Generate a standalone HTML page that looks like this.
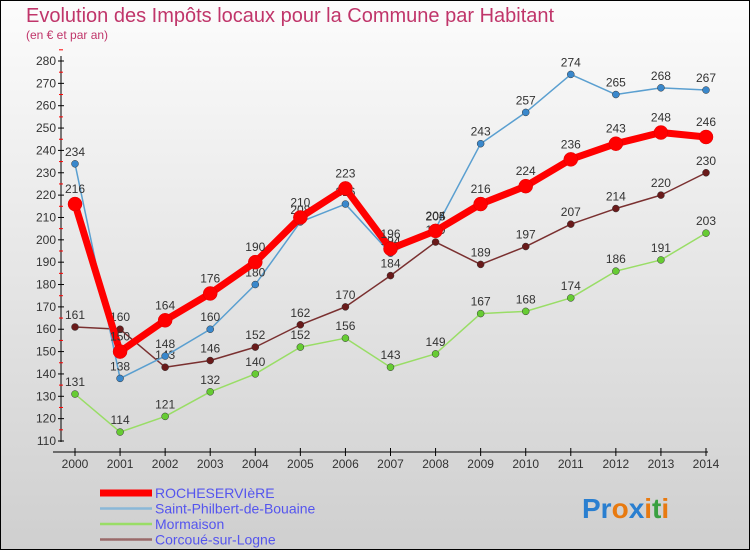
<!DOCTYPE html>
<html><head><meta charset="utf-8"><style>
body{margin:0}
#c{width:750px;height:550px;position:relative;box-sizing:border-box;border:1px solid #000;background:linear-gradient(#fcfcfc,#cfcfcf);font-family:"Liberation Sans",sans-serif;overflow:hidden}
</style></head><body>
<div id="c">
<svg id="s" width="750" height="550" style="position:absolute;left:-1px;top:-1px">
<text x="26" y="22" font-size="20" fill="#c0356a">Evolution des Impôts locaux pour la Commune par Habitant</text>
<text x="26" y="39" font-size="12" fill="#c0356a">(en € et par an)</text>
<g id="ax"></g><g id="ser"></g><g id="leg"></g>
<text x="582" y="518" font-size="28" font-weight="bold"><tspan fill="#2a7fd0">Pr</tspan><tspan fill="#e87a10">o</tspan><tspan fill="#2a7fd0">x</tspan><tspan fill="#e87a10">i</tspan><tspan fill="#3aa040">t</tspan><tspan fill="#e87a10">i</tspan></text>
</svg></div>
<script>
const years=[2000,2001,2002,2003,2004,2005,2006,2007,2008,2009,2010,2011,2012,2013,2014];
const yTicks=[110,120,130,140,150,160,170,180,190,200,210,220,230,240,250,260,270,280];
const rocheserviere=[216,150,164,176,190,210,223,196,204,216,224,236,243,248,246];
const saintPhilbert=[234,138,148,160,180,208,216,194,205,243,257,274,265,268,267];
const mormaison=[131,114,121,132,140,152,156,143,149,167,168,174,186,191,203];
const corcoue=[161,160,143,146,152,162,170,184,199,189,197,207,214,220,230];
const names=["ROCHESERVIèRE","Saint-Philbert-de-Bouaine","Mormaison","Corcoué-sur-Logne"];
const NS="http://www.w3.org/2000/svg";
const X=i=>75+i*(706-75)/14;
const Y=v=>441-(v-110)*(441-61)/170;
function mk(t,a,p){const e=document.createElementNS(NS,t);for(const k in a)e.setAttribute(k,a[k]);p.appendChild(e);return e;}
const ax=document.getElementById('ax');
let e=mk('line',{x1:61,y1:56,x2:61,y2:442,stroke:'#000'},ax);

yTicks.forEach(v=>{mk('line',{x1:58,x2:64,y1:Y(v),y2:Y(v),stroke:'#000'},ax);
 mk('line',{x1:59,x2:63,y1:Y(v+5),y2:Y(v+5),stroke:'#f00'},ax);
 const t=mk('text',{x:56,y:Y(v)+4,'text-anchor':'end','font-size':12,fill:'#333'},ax);t.textContent=v;
 });
e=mk('line',{x1:53,y1:452,x2:708,y2:452,stroke:'#000'},ax);

years.forEach((y,i)=>{mk('line',{x1:X(i),x2:X(i),y1:448,y2:456,stroke:'#000'},ax);
 const t=mk('text',{x:X(i),y:468,'text-anchor':'middle','font-size':12,fill:'#333'},ax);t.textContent=y;
 });
const ser=document.getElementById('ser');
const S=[[mormaison,'#99dd66','#66cc33',1.5,3.5,'mormaison'],[corcoue,'#7a3030','#6a1a1a',1.5,3.5,'corcoue'],[saintPhilbert,'#5a9fd0','#3a88cc',1.5,3.5,'saint-philbert'],[rocheserviere,'#ff0000','#ff0000',7,7,'rocheserviere']];
S.forEach(([d,c,fc,w,r,n])=>{const g=mk('g',{},ser);
 
 mk('polyline',{points:d.map((v,i)=>X(i)+','+Y(v)).join(' '),fill:'none',stroke:c,'stroke-width':w,'stroke-linejoin':'round'},g);
 d.forEach((v,i)=>{const p=mk('circle',{cx:X(i),cy:Y(v),r:r,fill:fc,stroke:n=='rocheserviere'?'#d00':'#333','stroke-width':0.5},g);
  
  const t=mk('text',{x:X(i),y:Y(v)-(n=='rocheserviere'?11:8),'text-anchor':'middle','font-size':12,fill:'#333'},g);t.textContent=v;
  });});
const leg=document.getElementById('leg');
const lc=[['#ff0000',7],['#8ab8d8',2.5],['#99dd66',2.5],['#9a6a6a',2.5]];
names.forEach((nm,i)=>{const y=493+i*15.5;const g=mk('g',{},leg);
 
 mk('line',{x1:100,x2:152,y1:y,y2:y,stroke:lc[i][0],'stroke-width':lc[i][1]},g);
 const t=mk('text',{x:155,y:y+5,'font-size':14,fill:'#5555ee'},g);t.textContent=nm;});
</script></body></html>
